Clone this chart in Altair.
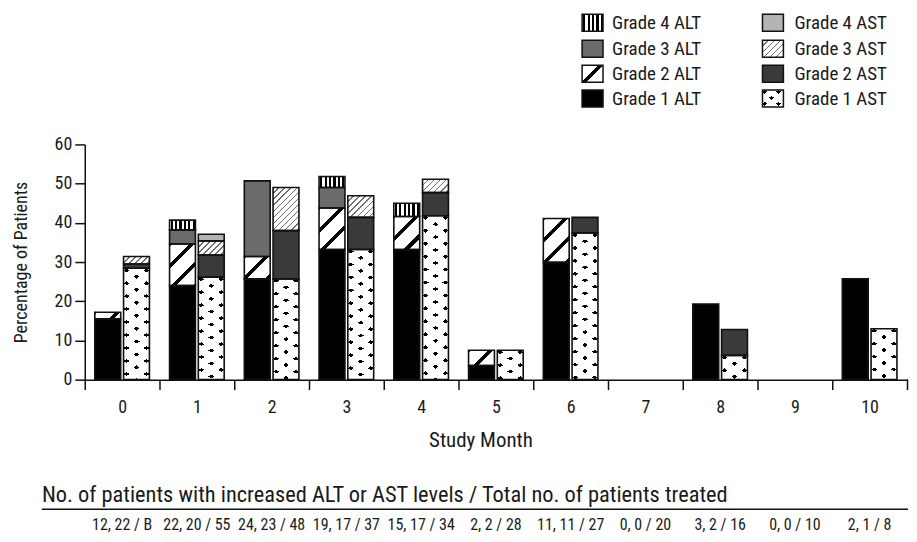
import math
import altair as alt

# ---------------- data ----------------
months = ["0", "1", "2", "3", "4", "5", "6", "7", "8", "9", "10"]

alt_grade1 = [15.5, 24.0, 25.7, 33.2, 33.2, 3.6, 29.9, 0, 19.3, 0, 25.7]
alt_grade2 = [1.7, 10.6, 5.7, 10.6, 8.4, 3.9, 11.2, 0, 0, 0, 0]
alt_grade3 = [0, 3.6, 19.3, 5.2, 0, 0, 0, 0, 0, 0, 0]
alt_grade4 = [0, 2.5, 0, 2.8, 3.4, 0, 0, 0, 0, 0, 0]

ast_grade1 = [28.4, 26.1, 25.7, 33.2, 41.8, 7.5, 37.4, 0, 6.2, 0, 13.0]
ast_grade2 = [1.1, 5.7, 12.3, 8.2, 5.9, 0, 4.0, 0, 6.6, 0, 0]
ast_grade3 = [1.9, 3.6, 11.0, 5.5, 3.4, 0, 0, 0, 0, 0, 0]
ast_grade4 = [0, 1.7, 0, 0, 0, 0, 0, 0, 0, 0, 0]

table_labels = ["12, 22 / B", "22, 20 / 55", "24, 23 / 48", "19, 17 / 37",
                "15, 17 / 34", "2, 2 / 28", "11, 11 / 27", "0, 0 / 20",
                "3, 2 / 16", "0, 0 / 10", "2, 1 / 8"]
table_header = "No. of patients with increased ALT or AST levels / Total no. of patients treated"

legend_alt = ["Grade 4 ALT", "Grade 3 ALT", "Grade 2 ALT", "Grade 1 ALT"]
legend_ast = ["Grade 4 AST", "Grade 3 AST", "Grade 2 AST", "Grade 1 AST"]

# ---------------- layout / style ----------------
FONT = "Liberation Sans Narrow, Roboto Condensed, DejaVu Sans Condensed, sans-serif"
W, H = 825, 236
YMAX = 60
PX = H / YMAX
OFF_PI, OFF_PO = 0.1, 0.35
BAR_W = (W / len(months)) / (2 - OFF_PI + 2 * OFF_PO) * (1 - OFF_PI)
CLEAR = "rgba(255,255,255,0)"
RIGHT_END = 826


def grad(w, h, alpha, beta, fg, bg, thick, off=0.0):
    """linear gradient giving parallel stripes (alpha*px + beta*py = k + off)"""
    A, B = alpha * w, beta * h
    corners = [0.0, A, B, A + B]
    fmin, fmax = min(corners), max(corners)
    D = fmax - fmin
    n2 = A * A + B * B
    x1, y1 = A * fmin / n2, B * fmin / n2
    dx, dy = A * D / n2, B * D / n2
    delta = thick * math.hypot(alpha, beta) / 2
    stops = [(0.0, bg)]
    for k in range(math.floor(fmin - off) - 1, math.ceil(fmax - off) + 2):
        c = k + off
        a0 = (c - delta - fmin) / D
        a1 = (c + delta - fmin) / D
        if a1 < 0 or a0 > 1:
            continue
        a0 = min(max(a0, 0.0), 1.0)
        a1 = min(max(a1, 0.0), 1.0)
        stops += [(a0, bg), (a0, fg), (a1, fg), (a1, bg)]
    stops.append((1.0, bg))
    return {"gradient": "linear", "x1": round(x1, 5), "y1": round(y1, 5),
            "x2": round(x1 + dx, 5), "y2": round(y1 + dy, 5),
            "stops": [{"offset": round(o, 5), "color": c} for o, c in stops]}


def fills(enzyme, grade, w, h, legend=False):
    """return (base fill, overlay fill) for a segment of w x h pixels"""
    if enzyme == "ALT":
        if grade == 1:
            return "#000000", "transparent"
        if grade == 2:
            p = 16.0
            a = 1 / (p * math.sqrt(2))
            off = 0.0
            if legend:
                off = (a * (w + h) / 2) % 1
            return grad(w, h, a, a, "#000000", "#ffffff", 3.6, off), "transparent"
        if grade == 3:
            return "#6b6b6b", "transparent"
        return grad(w, h, 1 / 4.4, 0, "#000000", "#ffffff", 2.2, 0.5), "transparent"
    if grade == 1:
        a, b = (20.0, 13.0) if not legend else (14.0, 12.0)
        base = grad(w, h, 1 / a, 1 / b, "#000000", "#ffffff", 3.3, 0.3)
        mask = grad(w, h, -1 / a, 1 / b, CLEAR, "#ffffff", 3.3, 0.0)
        return base, mask
    if grade == 2:
        return "#3a3a3a", "transparent"
    if grade == 3:
        p = 4.3
        a = 1 / (p * math.sqrt(2))
        return grad(w, h, a, a, "#707070", "#ffffff", 1.2), "transparent"
    return "#b4b4b4", "transparent"


# ---------------- segment table ----------------
series = {
    "ALT": [alt_grade1, alt_grade2, alt_grade3, alt_grade4],
    "AST": [ast_grade1, ast_grade2, ast_grade3, ast_grade4],
}
seg_records = []
for enzyme, grades in series.items():
    for i, m in enumerate(months):
        y0 = 0.0
        for g, vals in enumerate(grades, start=1):
            v = vals[i]
            if v <= 0:
                continue
            f1, f2 = fills(enzyme, g, BAR_W, v * PX)
            seg_records.append({"month": m, "enzyme": enzyme, "grade": g,
                                "y0": y0, "y1": y0 + v, "f1": f1, "f2": f2})
            y0 += v

# ---------------- legend table ----------------
SW_W, SW_H = 21, 17
LEG_X = [499, 680]
LEG_TX = [529, 712]
LEG_Y = [-122, -96, -71, -46]
leg_records = []
for col, (enzyme, labels) in enumerate([("ALT", legend_alt), ("AST", legend_ast)]):
    for row, lab in enumerate(labels):
        g = 4 - row
        f1, f2 = fills(enzyme, g, SW_W, SW_H, legend=True)
        leg_records.append({"label": lab, "x0": LEG_X[col], "x1": LEG_X[col] + SW_W,
                            "yc": LEG_Y[row], "y0": LEG_Y[row] - SW_H / 2,
                            "y1": LEG_Y[row] + SW_H / 2, "tx": LEG_TX[col],
                            "f1": f1, "f2": f2})

# ---------------- charts ----------------
x_enc = alt.X("month:O", sort=months,
              scale=alt.Scale(domain=months, paddingInner=0, paddingOuter=0),
              axis=alt.Axis(title="Study Month", tickBand="extent", labelAngle=0,
                            labelFontSize=18, labelPadding=9, tickSize=10,
                            titleFontSize=21, titlePadding=13, titleFontWeight="normal",
                            titleX=397))
xo_enc = alt.XOffset("enzyme:N", sort=["ALT", "AST"],
                     scale=alt.Scale(paddingInner=OFF_PI, paddingOuter=OFF_PO))
y_enc = alt.Y("y0:Q", scale=alt.Scale(domain=[0, YMAX], nice=False),
              axis=alt.Axis(title="Percentage of Patients", values=list(range(0, 61, 10)),
                            tickSize=10, labelFontSize=18, labelPadding=3,
                            titleFontSize=18, titlePadding=24, titleFontWeight="normal"))

segs = alt.Chart(alt.Data(values=seg_records))
bars_base = segs.mark_bar(strokeWidth=0).encode(
    x=x_enc, xOffset=xo_enc, y=y_enc, y2="y1:Q",
    fill=alt.Fill("f1:N", scale=None))
bars_top = segs.mark_bar(stroke="#111111", strokeWidth=1.6).encode(
    x=x_enc, xOffset=xo_enc, y=y_enc, y2="y1:Q",
    fill=alt.Fill("f2:N", scale=None))

leg = alt.Chart(alt.Data(values=leg_records))
leg_base = leg.mark_bar(strokeWidth=0).encode(
    x=alt.X("x0:Q", scale=None), x2="x1:Q",
    y=alt.Y("y0:Q", scale=None), y2="y1:Q",
    fill=alt.Fill("f1:N", scale=None))
leg_top = leg.mark_bar(stroke="#111111", strokeWidth=1.5).encode(
    x=alt.X("x0:Q", scale=None), x2="x1:Q",
    y=alt.Y("y0:Q", scale=None), y2="y1:Q",
    fill=alt.Fill("f2:N", scale=None))
leg_text = leg.mark_text(align="left", baseline="middle", fontSize=19,
                         font=FONT, color="#1a1a1a").encode(
    x=alt.X("tx:Q", scale=None), y=alt.Y("yc:Q", scale=None), text="label:N")

one = alt.Data(values=[{"t": table_header}])
axis_ext = alt.Chart(one).mark_rule(color="#111111", strokeWidth=1.5).encode(
    x=alt.value(W), x2=alt.value(RIGHT_END), y=alt.value(H))
header = alt.Chart(one).mark_text(
    align="left", baseline="middle", fontSize=22.5, font=FONT, color="#1a1a1a").encode(
    x=alt.value(-43), y=alt.value(352), text="t:N")
header_rule = alt.Chart(one).mark_rule(color="#111111", strokeWidth=1.6).encode(
    x=alt.value(-43), x2=alt.value(RIGHT_END), y=alt.value(366))
values_row = alt.Chart(alt.Data(values=[{"month": m, "lab": l}
                                        for m, l in zip(months, table_labels)])).mark_text(
    baseline="middle", fontSize=16, font=FONT, color="#1a1a1a").encode(
    x=alt.X("month:O", sort=months,
            scale=alt.Scale(domain=months, paddingInner=0, paddingOuter=0)),
    y=alt.value(382), text="lab:N")

chart = alt.layer(bars_base, bars_top, leg_base, leg_top, leg_text,
                  axis_ext, header, header_rule, values_row).properties(
    width=W, height=H, padding={"left": 4, "top": 4, "right": 0, "bottom": 0}
).configure_view(stroke=None).configure_axis(
    grid=False, domainColor="#111111", domainWidth=1.5, tickColor="#111111",
    tickWidth=1.5, labelColor="#1a1a1a", titleColor="#1a1a1a",
    labelFont=FONT, titleFont=FONT
).configure_text(font=FONT)

chart.save("out.html", embed_options={"renderer": "svg", "actions": False})
